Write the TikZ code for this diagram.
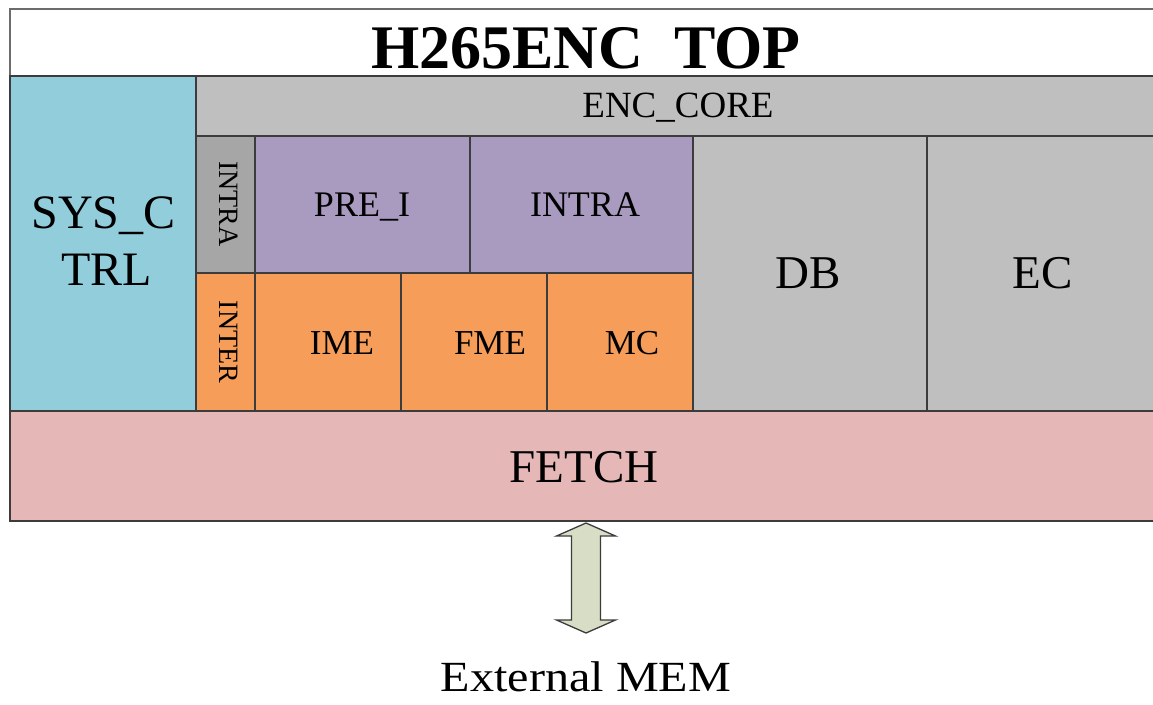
\documentclass[tikz,border=0pt]{standalone}
\usepackage{fontspec}
\setmainfont{Liberation Serif}
\usetikzlibrary{fit,calc}
\definecolor{edge}{HTML}{3C3C3C}
\definecolor{sysblue}{HTML}{92CDDC}
\definecolor{coregray}{HTML}{BFBFBF}
\definecolor{darkgray}{HTML}{A6A6A6}
\definecolor{purp}{HTML}{A99AC0}
\definecolor{orng}{HTML}{F59D59}
\definecolor{fetchpink}{HTML}{E5B8B7}
\definecolor{arrowfill}{HTML}{D8DDC5}
\begin{document}
\begin{tikzpicture}[x=1pt,y=-1pt,
  cell/.style={draw=edge, line width=1.4pt, inner sep=0pt},
  lbl/.style={anchor=base, inner sep=0pt, font=\fontsize{#1}{#1}\selectfont},
  vlbl/.style={anchor=center, inner sep=0pt, rotate=-90, font=\fontsize{#1}{#1}\selectfont}]
\useasboundingbox (0,0) rectangle (1153,704);
% title band
\node[cell, draw=gray!85!black, fill=white, fit={(10,9) (1165,76)}] (top) {};
\node[lbl=62, font=\fontsize{62}{62}\selectfont\bfseries] (title) at (586,68) {H265ENC\ \ TOP};
% system control
\node[cell, fill=sysblue, fit={(10,76) (196,411)}] (sys) {};
\node[lbl=48] (sys1) at (103.5,228) {SYS\_C};
\node[lbl=48] (sys2) at (106.5,285) {TRL};
% encoder core band
\node[cell, fill=coregray, fit={(196,76) (1165,136)}] (core) {};
\node[lbl=37] (coretxt) at (678,117) {ENC\_CORE};
% intra row
\node[cell, fill=darkgray, fit={(196,136) (255,273)}] (intrav) {};
\node[vlbl=28] (intravtxt) at (229,204) {INTRA};
\node[cell, fill=purp, fit={(255,136) (470,273)}] (prei) {};
\node[lbl=36] (preitxt) at (362,216) {PRE\_I};
\node[cell, fill=purp, fit={(470,136) (693,273)}] (intra) {};
\node[lbl=36] (intratxt) at (585,216) {INTRA};
% inter row
\node[cell, fill=orng, fit={(196,273) (255,411)}] (interv) {};
\node[vlbl=28] (intervtxt) at (229,342) {INTER};
\node[cell, fill=orng, fit={(255,273) (401,411)}] (ime) {};
\node[lbl=35] (imetxt) at (342,354) {IME};
\node[cell, fill=orng, fit={(401,273) (547,411)}] (fme) {};
\node[lbl=35] (fmetxt) at (490,354) {FME};
\node[cell, fill=orng, fit={(547,273) (693,411)}] (mc) {};
\node[lbl=35] (mctxt) at (632,354) {MC};
% DB and EC
\node[cell, fill=coregray, fit={(693,136) (927,411)}] (db) {};
\node[lbl=47] (dbtxt) at (808,288) {DB};
\node[cell, fill=coregray, fit={(927,136) (1165,411)}] (ec) {};
\node[lbl=47] (ectxt) at (1043,288) {EC};
% fetch
\node[cell, fill=fetchpink, fit={(10,411) (1165,521)}] (fetch) {};
\node[lbl=47] (fetchtxt) at (584,482) {FETCH};
% external memory
\node[anchor=base, inner sep=0pt, xscale=1.12, font=\fontsize{43}{43}\selectfont] (mem) at (586,691) {External MEM};
% double arrow between FETCH and memory
\coordinate (atop) at (586,523);
\coordinate (abot) at (586,633);
\draw[draw=edge, line width=1.3pt, fill=arrowfill, line join=miter]
  (atop) -- ($(atop)+(29.5,13)$) -- ($(atop)+(14.5,13)$) -- ($(abot)+(14.5,-13)$)
  -- ($(abot)+(29.5,-13)$) -- (abot) -- ($(abot)+(-29.5,-13)$) -- ($(abot)+(-14.5,-13)$)
  -- ($(atop)+(-14.5,13)$) -- ($(atop)+(-29.5,13)$) -- cycle;
\end{tikzpicture}
\end{document}
